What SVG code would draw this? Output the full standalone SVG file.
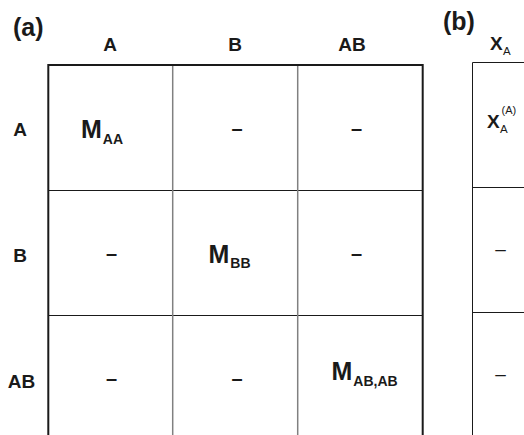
<svg xmlns="http://www.w3.org/2000/svg" width="524" height="435" viewBox="0 0 524 435">
<style>
text{font-family:"Liberation Sans",Arial,sans-serif;fill:#1a1a1a}
.lbl{font-size:25px;font-weight:bold}
.hdr{font-size:19px;font-weight:bold}
.m{font-size:25px;font-weight:bold}
.sub{font-size:14px;font-weight:bold}
.dash{font-size:20px;font-weight:bold;text-anchor:middle}
.dash2{font-size:19px;text-anchor:middle}
.x{font-size:19px;font-weight:bold}
.xs{font-size:11.5px}
.outer{fill:none;stroke:#1a1a1a;stroke-width:2}
.vin{stroke:#808080;stroke-width:1.5}
.hin{stroke:#1a1a1a;stroke-width:1}
.bl{stroke:#1a1a1a;stroke-width:1;fill:none}
</style>
<rect width="524" height="435" fill="#fff"/>
<g id="panel-a">
  <text class="lbl" x="13" y="36">(a)</text>
  <g id="col-headers">
    <text class="hdr" x="110" y="51" text-anchor="middle">A</text>
    <text class="hdr" x="235" y="51" text-anchor="middle">B</text>
    <text class="hdr" x="352" y="51" text-anchor="middle">AB</text>
  </g>
  <g id="row-headers">
    <text class="hdr" x="20" y="136" text-anchor="middle">A</text>
    <text class="hdr" x="20" y="262" text-anchor="middle">B</text>
    <text class="hdr" x="21.5" y="388" text-anchor="middle">AB</text>
  </g>
  <g id="grid-a">
    <line class="hin" x1="48" y1="190.5" x2="423" y2="190.5"/>
    <line class="hin" x1="48" y1="315.5" x2="423" y2="315.5"/>
    <line class="vin" x1="172.7" y1="65" x2="172.7" y2="436"/>
    <line class="vin" x1="297.7" y1="65" x2="297.7" y2="436"/>
    <path class="outer" d="M48.3,437 V65 H422.7 V437"/>
  </g>
  <g id="cells-a">
    <text class="m" x="81" y="138">M<tspan class="sub" dx="1" dy="6">AA</tspan></text>
    <text class="dash" x="237" y="135">–</text>
    <text class="dash" x="356.5" y="135">–</text>
    <text class="dash" x="111.5" y="260">–</text>
    <text class="m" x="208.5" y="263">M<tspan class="sub" dx="1" dy="5">BB</tspan></text>
    <text class="dash" x="356.5" y="260">–</text>
    <text class="dash" x="111.5" y="385">–</text>
    <text class="dash" x="237" y="385">–</text>
    <text class="m" x="331.5" y="380">M<tspan class="sub" dx="1" dy="6">AB,AB</tspan></text>
  </g>
</g>
<g id="panel-b">
  <text class="lbl" x="443" y="30">(b)</text>
  <text class="x" x="490" y="50">X</text>
  <text class="xs" x="503" y="55">A</text>
  <g id="grid-b">
    <path class="bl" d="M472.5,437 V62.5 H525"/>
    <line class="bl" x1="472.5" y1="187.5" x2="525" y2="187.5"/>
    <line class="bl" x1="472.5" y1="312.5" x2="525" y2="312.5"/>
  </g>
  <g id="cells-b">
    <text class="x" x="487" y="128">X</text>
    <text class="xs" x="500" y="133">A</text>
    <text x="501.5" y="114" style="font-size:11px">(A)</text>
    <text class="dash2" x="500.5" y="255">–</text>
    <text class="dash2" x="500.5" y="380">–</text>
  </g>
</g>
</svg>
